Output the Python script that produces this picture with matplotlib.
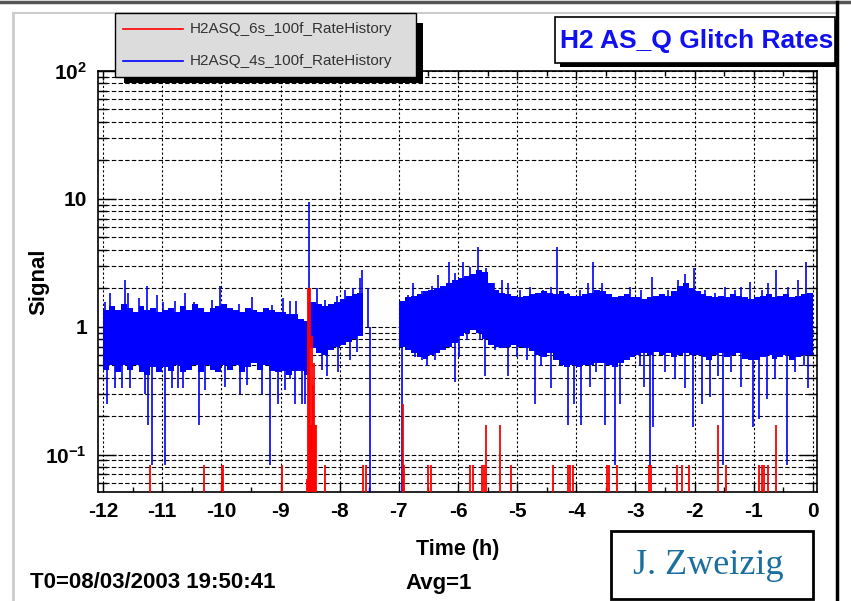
import numpy as np
import matplotlib
matplotlib.use("Agg")
import matplotlib.pyplot as plt
from matplotlib.patches import Rectangle
from matplotlib.lines import Line2D
from matplotlib.ticker import MultipleLocator, FixedLocator, FixedFormatter

plt.rcParams['font.family'] = ['Liberation Sans', 'DejaVu Sans']
plt.rcParams['axes.unicode_minus'] = False
plt.rcParams['mathtext.fontset'] = 'custom'
plt.rcParams['mathtext.rm'] = 'Liberation Sans:bold'
plt.rcParams['mathtext.default'] = 'rm'

W, H = 851, 601

red_name = "H2ASQ_6s_100f_RateHistory"
blue_name = "H2ASQ_4s_100f_RateHistory"

# 4s glitch rate: dense band per 0.1 h bin (upper / lower edge), -12 h .. 0 h
nan = np.nan
blue_hi = [
    1.35, 1.45, 1.35, 1.5, 1.4, 1.3, 1.45, 1.35, 1.4, 1.3,      # -12
    1.35, 1.4, 1.3, 1.45, 1.35, 1.5, 1.4, 1.3, 1.4, 1.45,       # -11
    1.5, 1.4, 1.35, 1.3, 1.4, 1.35, 1.3, 1.4, 1.35, 1.3,        # -10
    1.3, 1.25, 1.25, 1.15, 1.1, 1.55, 1.5, 1.45, 1.5, 1.55,     # -9
    1.65, 1.75, 1.8, 1.85, 1.9, nan, nan, nan, nan, nan,        # -8
    1.6, 1.7, 1.75, 1.8, 1.9, 1.95, 2.0, 2.1, 2.2, 2.3,         # -7
    2.4, 2.5, 2.6, 2.8, 2.7, 2.2, 1.95, 1.85, 1.8, 1.75,        # -6
    1.7, 1.75, 1.8, 1.85, 1.9, 1.85, 1.8, 1.9, 1.8, 1.75,       # -5
    1.75, 1.8, 1.85, 1.95, 1.9, 1.8, 1.7, 1.75, 1.8, 1.7,       # -4
    1.7, 1.65, 1.7, 1.75, 1.8, 1.75, 1.9, 2.1, 2.2, 2.0,        # -3
    1.9, 1.8, 1.75, 1.7, 1.75, 1.7, 1.8, 1.75, 1.7, 1.65,       # -2
    1.7, 1.75, 1.8, 1.7, 1.75, 1.8, 1.7, 1.75, 1.8, 1.85,       # -1
]
blue_lo = [
    0.46, 0.5, 0.44, 0.5, 0.46, 0.5, 0.44, 0.42, 0.48, 0.44,
    0.48, 0.45, 0.5, 0.44, 0.46, 0.5, 0.44, 0.5, 0.46, 0.44,
    0.5, 0.46, 0.5, 0.44, 0.48, 0.52, 0.46, 0.5, 0.45, 0.44,
    0.45, 0.42, 0.45, 0.45, 0.42, 0.68, 0.62, 0.6, 0.66, 0.7,
    0.72, 0.76, 0.8, 0.84, 0.86, nan, nan, nan, nan, nan,
    0.7, 0.66, 0.62, 0.58, 0.56, 0.6, 0.62, 0.66, 0.7, 0.75,
    0.85, 0.9, 0.95, 0.9, 0.8, 0.72, 0.7, 0.68, 0.7, 0.72,
    0.7, 0.68, 0.65, 0.6, 0.58, 0.62, 0.55, 0.5, 0.48, 0.5,
    0.48, 0.5, 0.5, 0.52, 0.52, 0.5, 0.48, 0.52, 0.55, 0.58,
    0.6, 0.62, 0.6, 0.63, 0.6, 0.62, 0.58, 0.6, 0.62, 0.6,
    0.6, 0.58, 0.55, 0.6, 0.62, 0.58, 0.6, 0.62, 0.56, 0.55,
    0.55, 0.58, 0.6, 0.56, 0.58, 0.6, 0.55, 0.58, 0.6, 0.6,
]

# single bins sticking out above the band
blue_peak_t = [-11.97, -11.88, -11.63, -11.57, -11.40, -11.26, -11.09, -10.98, -10.78,
               -10.61, -10.47, -10.16, -10.02, -9.71, -9.49, -9.15,
               -8.95, -8.84, -8.73, -8.52, -8.39, -8.25, -8.05, -7.91, -7.77, -7.66, -7.62, -7.52,
               -6.84, -6.76, -6.61, -6.44, -6.33, -6.16, -6.05,
               -5.91, -5.80, -5.66, -5.52, -5.40, -5.26, -5.15, -4.95, -4.78, -4.56, -4.42,
               -4.33, -4.14, -3.94, -3.80, -3.71, -3.57, -3.40, -3.29, -3.09,
               -2.90, -2.72, -2.56, -2.45, -2.28, -2.16, -2.01, -1.83, -1.66, -1.49, -1.32,
               -1.21, -1.07, -0.87, -0.76, -0.62, -0.42, -0.25, -0.11]
blue_peak_v = [1.55, 1.84, 2.33, 1.84, 1.68, 2.1, 1.78, 1.55, 1.6,
               1.84, 1.55, 1.62, 2.1, 1.5, 1.7, 1.47,
               1.68, 1.6, 1.6, 9.5, 2.0, 1.62, 1.75, 1.95, 2.0, 2.4, 2.8, 2.0,
               1.78, 2.2, 1.9, 2.1, 2.55, 3.2, 2.65,
               3.2, 2.95, 4.2, 2.9, 2.2, 2.33, 2.2, 1.95, 2.05, 1.95, 2.05,
               4.2, 1.84, 1.95, 2.2, 3.2, 2.2, 1.62, 1.65, 2.05,
               1.95, 2.45, 1.8, 1.95, 2.33, 2.6, 2.9, 1.95, 1.84, 2.05, 1.95,
               2.05, 2.25, 1.95, 2.2, 2.8, 2.05, 2.33, 3.2]

# single bins dropping below the band (0 = no glitches in the bin)
blue_dip_t = [-11.94, -11.80, -11.68, -11.54, -11.29, -11.24, -11.18, -10.96, -10.84,
              -10.73, -10.64, -10.38, -10.28, -9.94, -9.68, -9.57, -9.32, -9.18, -9.05,
              -8.92, -8.84, -8.75, -8.64, -8.59, -8.30, -8.22, -8.02, -7.83, -7.71, -7.49,
              -6.94, -6.87, -6.73, -6.61, -6.53, -6.39, -6.30, -6.05,
              -5.99, -5.85, -5.63, -5.54, -5.38, -5.15, -5.01, -4.84, -4.70, -4.59, -4.42,
              -4.25, -4.14, -4.04, -3.92, -3.77, -3.66, -3.52, -3.35, -3.26, -3.07,
              -2.93, -2.85, -2.76, -2.70, -2.50, -2.33, -2.16, -2.02, -1.88, -1.74, -1.60,
              -1.52, -1.38, -1.21, -1.02, -0.92, -0.78, -0.64, -0.44, -0.30, -0.16, -0.08]
blue_dip_v = [0.25, 0.33, 0.33, 0.33, 0.3, 0.17, 0.083, 0.083, 0.33,
              0.33, 0.33, 0.17, 0.32, 0.34, 0.3, 0.35, 0.3, 0.083, 0.25,
              0.32, 0.39, 0.25, 0.25, 0.25, 0.46, 0.41, 0.44, 0.55, 0.63, 0.0,
              0.0, 0.66, 0.58, 0.55, 0.49, 0.55, 0.66, 0.37,
              0.58, 0.79, 0.79, 0.41, 0.66, 0.41, 0.58, 0.55, 0.25, 0.49, 0.33,
              0.49, 0.17, 0.25, 0.17, 0.34, 0.44, 0.17, 0.083, 0.25, 0.58,
              0.49, 0.34, 0.08, 0.165, 0.44, 0.39, 0.33, 0.165, 0.25, 0.28, 0.41,
              0.083, 0.44, 0.34, 0.165, 0.19, 0.27, 0.39, 0.083, 0.44, 0.49, 0.33]

# 6s glitch rate: zero except in these bins
red_t = [-11.21, -10.30, -9.99, -9.97, -8.98, -8.56, -8.53, -8.52, -8.51, -8.50, -8.49,
         -8.48, -8.46, -8.45, -8.43, -8.41, -8.40, -8.24, -7.60, -7.56, -6.93, -6.91,
         -6.51, -6.45, -5.79, -5.74, -5.59, -5.56, -5.52, -5.29, -5.10, -4.39, -4.14,
         -4.10, -4.06, -3.49, -3.45, -3.32, -2.78, -2.74, -2.29, -2.21, -2.09, -1.60,
         -1.47, -0.92, -0.86, -0.83, -0.76, -0.62]
red_v = [0.083, 0.083, 0.083, 0.083, 0.083, 0.065, 2.0, 2.0, 2.0, 0.17, 0.17,
         0.17, 0.85, 0.35, 0.52, 0.17, 0.17, 0.083, 0.083, 0.083, 0.25, 0.083,
         0.083, 0.083, 0.083, 0.083, 0.083, 0.083, 0.17, 0.17, 0.083, 0.083, 0.083,
         0.083, 0.083, 0.083, 0.083, 0.083, 0.083, 0.083, 0.083, 0.083, 0.083, 0.17,
         0.083, 0.083, 0.083, 0.083, 0.083, 0.17]

x_ticks = list(range(-12, 1))
y_ticks = [0.1, 1, 10, 100]
y_tick_labels = ['10$^{-1}$', '1', '10', '10$^{2}$']

BLUE = '#0000ff'
RED = '#ff0000'


def fx(px):
    return px / W


def fy(py):
    return 1 - py / H


fig = plt.figure(figsize=(W / 100, H / 100), dpi=100)
fig.patch.set_facecolor('white')

ax = fig.add_axes([fx(98), fy(492), (817 - 98) / W, (492 - 71) / H])
ax.set_yscale('log')
ax.set_xlim(-12.085, 0.068)
ax.set_ylim(0.051, 100)

# blue band, outliers, then red on top
edges = np.linspace(-12, 0, len(blue_hi) + 1)
hi = np.array(blue_hi + [blue_hi[-1]])
lo = np.array(blue_lo + [blue_lo[-1]])
ax.fill_between(edges, lo, hi, step='post', color=BLUE, lw=0, zorder=3)
ax.vlines(blue_peak_t, 1.0, blue_peak_v, color=BLUE, lw=1.2, zorder=3)
ax.vlines(blue_dip_t, blue_dip_v, 1.0, color=BLUE, lw=1.2, zorder=3)
ax.vlines(red_t, 0, red_v, color=RED, lw=1.3, zorder=4)

# grid
ax.grid(which='both', axis='y', color='k', ls=(0, (4, 2)), lw=0.8, zorder=1)
ax.grid(which='major', axis='x', color='k', ls=(0, (2, 2)), lw=0.8, zorder=1)

ax.xaxis.set_major_locator(FixedLocator(x_ticks))
ax.xaxis.set_minor_locator(MultipleLocator(0.5))
ax.yaxis.set_major_locator(FixedLocator(y_ticks))
ax.yaxis.set_major_formatter(FixedFormatter(y_tick_labels))

ax.tick_params(which='both', direction='in', top=True, right=True, width=1, color='k')
ax.tick_params(axis='x', which='major', length=6.5, pad=7, labelsize=15)
ax.tick_params(axis='x', which='minor', length=3.6)
ax.tick_params(axis='y', which='major', length=13, pad=8, labelsize=15)
ax.tick_params(axis='y', which='minor', length=6.5)
for lab in ax.get_xticklabels() + ax.get_yticklabels():
    lab.set_fontweight('bold')
for s in ax.spines.values():
    s.set_linewidth(1.2)

ax.set_xlabel('Time (h)', fontsize=15.5, fontweight='bold')
ax.xaxis.set_label_coords(0.5, -0.112)
ax.set_ylabel('Signal', fontsize=16, fontweight='bold')
ax.yaxis.set_label_coords(-0.068, 0.5)

# canvas frame
fig.add_artist(Line2D([0, 1], [fy(2), fy(2)], color='#555555', lw=2.5))
fig.add_artist(Line2D([fx(13), fx(836)], [fy(13), fy(13)], color='#cccccc', lw=1.5))
fig.add_artist(Line2D([fx(13), fx(13)], [fy(13), 0], color='#cccccc', lw=2))
fig.add_artist(Line2D([fx(836.5), fx(836.5)], [fy(2), 0], color='black', lw=2.5))

# legend
fig.add_artist(Rectangle((fx(124), fy(83)), fx(423 - 124), (83 - 23) / H,
                         facecolor='black', edgecolor='none', zorder=5))
fig.add_artist(Rectangle((fx(115), fy(77)), fx(416 - 115), (77 - 13) / H,
                         facecolor='#dcdcdc', edgecolor='black', lw=1, zorder=6))
for yy, col, name in [(29, RED, red_name), (61, BLUE, blue_name)]:
    fig.add_artist(Line2D([fx(123), fx(183)], [fy(yy), fy(yy)], color=col, lw=1.2, zorder=7))
    fig.text(fx(190), fy(yy), name, fontsize=11, color='#333333', va='center', zorder=7)

# title box
fig.add_artist(Rectangle((fx(560), fy(67)), fx(838 - 560), (67 - 20) / H,
                         facecolor='black', edgecolor='none', zorder=5))
fig.add_artist(Rectangle((fx(555), fy(63)), fx(835 - 555), (63 - 17) / H,
                         facecolor='white', edgecolor='black', lw=1.2, zorder=6))
fig.text(fx(833), fy(41), 'H2 AS_Q Glitch Rates', fontsize=19, fontweight='bold',
         color='#1010f0', ha='right', va='center', zorder=7)

# footer
fig.text(fx(30), fy(583), 'T0=08/03/2003 19:50:41', fontsize=16, fontweight='bold',
         va='center')
fig.text(fx(405), fy(583), 'Avg=1', fontsize=16, fontweight='bold', va='center')

fig.add_artist(Rectangle((fx(611), fy(599)), fx(813 - 611), (599 - 531) / H,
                         facecolor='white', edgecolor='black', lw=2, zorder=6))
fig.text(fx(708), fy(566), 'J. Zweizig', fontsize=26, family='Liberation Serif',
         color='#1b6f9f', ha='center', va='center', zorder=7)

fig.savefig('out.png', dpi=100)
